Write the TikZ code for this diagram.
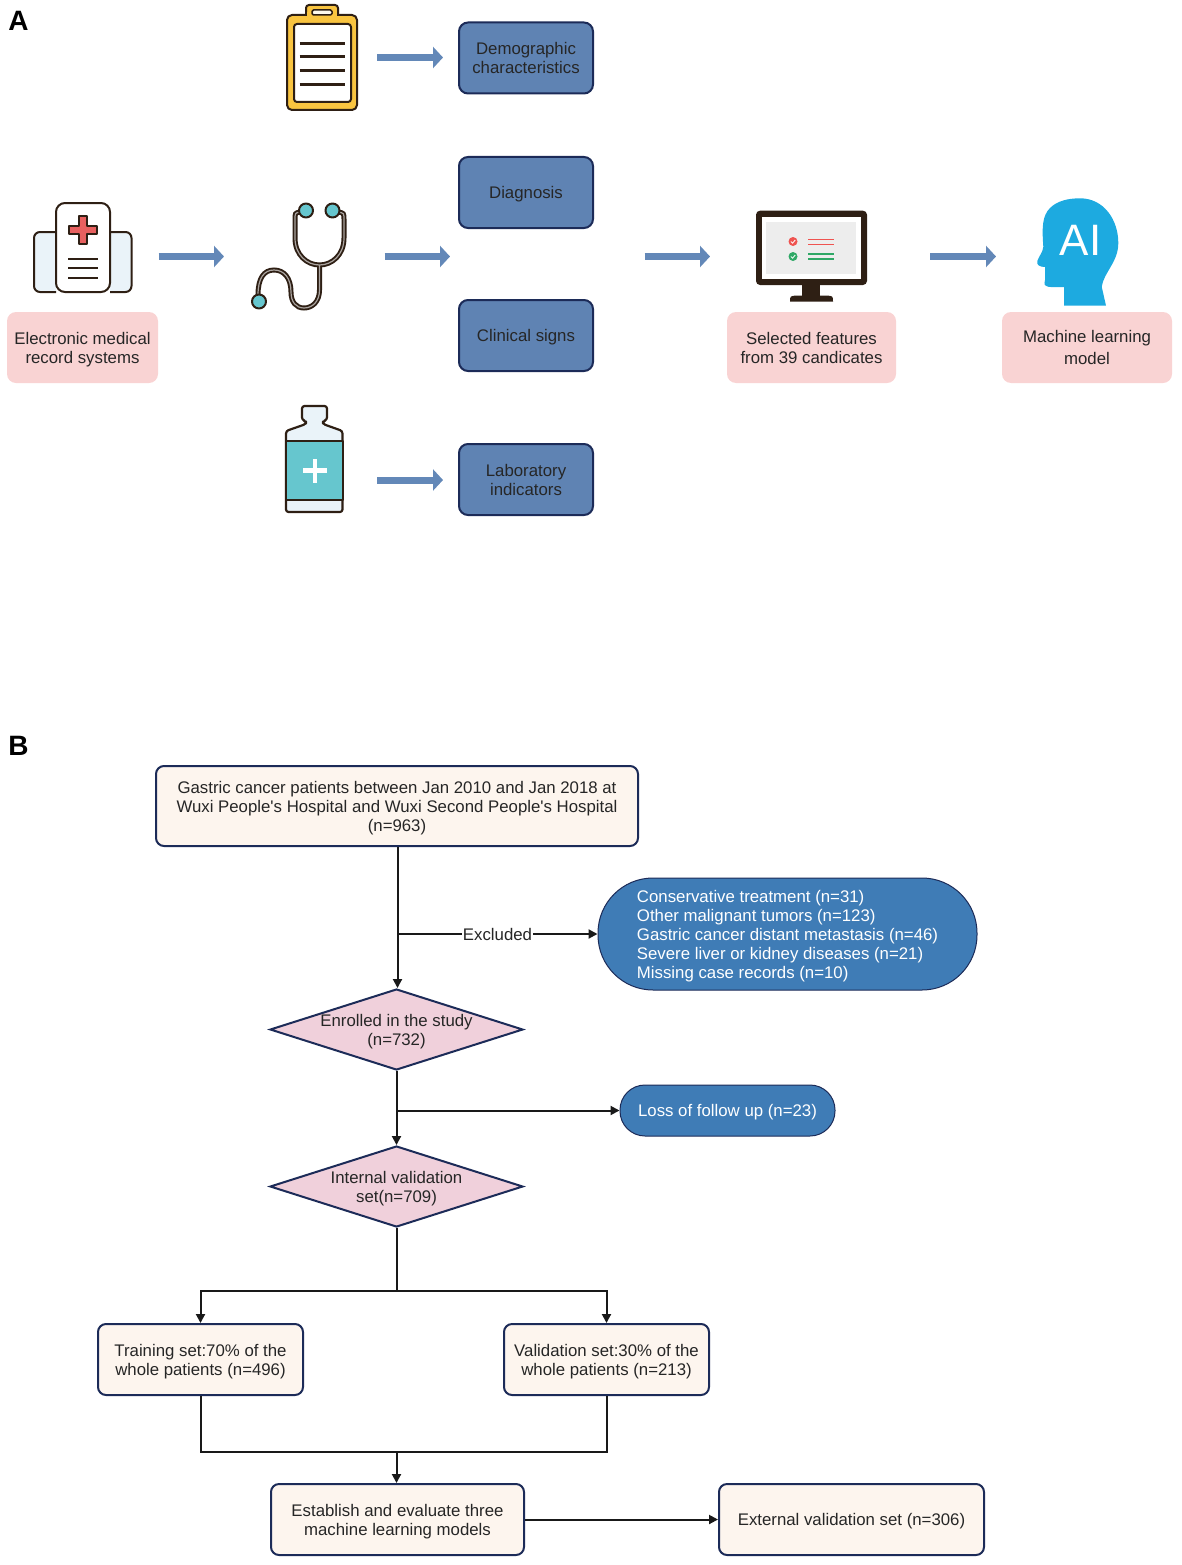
\documentclass[tikz,border=0pt]{standalone}
\usepackage{fontspec}
\setmainfont{Liberation Sans}
\usetikzlibrary{arrows.meta,shapes.geometric}
\definecolor{inkc}{HTML}{2E1F14}
\definecolor{navyc}{HTML}{1C2B58}
\definecolor{bluec}{HTML}{5F83B3}
\definecolor{arrowc}{HTML}{6388B8}
\definecolor{pinkc}{HTML}{F9D3D3}
\definecolor{creamc}{HTML}{FDF5EE}
\definecolor{rosec}{HTML}{F0D0DB}
\definecolor{pillc}{HTML}{3F7CB6}
\definecolor{tealc}{HTML}{66C6CE}
\definecolor{palec}{HTML}{EAF3F9}
\definecolor{yellowc}{HTML}{F9C440}
\definecolor{headc}{HTML}{1DAAE0}
\definecolor{redc}{HTML}{EF5350}
\definecolor{greenc}{HTML}{2FA866}
\definecolor{crossc}{HTML}{E8605F}
\tikzset{
txt/.style={font=\fontsize{16.8}{19}\selectfont, text=black!85, align=center, inner sep=0pt},
boxtxt/.style={txt, text depth=0pt},
bluebox/.style={boxtxt, rectangle, draw=navyc, line width=2pt, fill=bluec, rounded corners=9pt, minimum width=134pt, minimum height=71pt},
pinkbox/.style={boxtxt, rectangle, fill=pinkc, rounded corners=9pt, minimum height=71pt},
creambox/.style={boxtxt, rectangle, draw=navyc, line width=2pt, fill=creamc, rounded corners=8pt, minimum height=71pt},
flowdiamond/.style={boxtxt, diamond, aspect=3.12, draw=navyc, line width=2pt, fill=rosec, inner xsep=-10pt, inner ysep=-10pt, minimum width=253pt, minimum height=81pt},
pill/.style={boxtxt, rectangle, draw=navyc, line width=1pt, fill=pillc, text=white},
blockarrow/.style={draw=arrowc, line width=7pt, -{Triangle[length=10pt,width=21pt]}},
flowarrow/.style={draw=black!90, line width=2pt, -{Triangle[length=9pt,width=9pt]}},
flowline/.style={draw=black!90, line width=2pt},
panel/.style={font=\fontsize{28}{30}\selectfont\bfseries, inner sep=0pt},
icon/.style={draw=inkc, line width=2pt, line join=round},
rule/.style={draw=inkc, line width=2.5pt},
}
\begin{document}
\begin{tikzpicture}[x=1pt,y=-1pt]
\useasboundingbox (0,0) rectangle (1181,1565);
\node[panel] (panelA) at (18.5,21) {A};
\node[panel] (panelB) at (18.5,745.5) {B};

\draw[icon, fill=yellowc, rounded corners=3pt] (306,17) -- (306,5) -- (338,5) -- (338,17);
\draw[icon, fill=yellowc, rounded corners=5pt] (287,15) rectangle (357,110);
\fill[yellowc] (307,12) rectangle (337,18);
\draw[icon, fill=white!90!yellowc, line width=1.5pt, rounded corners=1.5pt] (312,10) rectangle (332,15);
\draw[icon, fill=white, rounded corners=3pt] (294,24) rectangle (351,102);
\foreach \ly in {43.5,57,71,84.5}{
\draw[rule, line width=3pt] (299.5,\ly) -- (345,\ly);
}

\draw[icon, fill=palec, rounded corners=6pt] (56,232) -- (34,232) -- (34,292) -- (56,292);
\draw[icon, fill=palec, rounded corners=6pt] (110,232) -- (131.5,232) -- (131.5,292) -- (110,292);
\draw[icon, fill=white, rounded corners=9pt] (56,292) -- (56,203) -- (110,203) -- (110,292) -- cycle;
\draw[icon, fill=crossc, line width=1.5pt] (79,216) -- (87,216) -- (87,226) -- (97,226) -- (97,234) -- (87,234) -- (87,244) -- (79,244) -- (79,234) -- (69,234) -- (69,226) -- (79,226) -- cycle;
\draw[rule] (68,259) -- (98,259);
\draw[rule, line width=2pt] (68,268) -- (98,268);
\draw[rule, line width=2pt] (68,277.5) -- (98,277.5);

\draw[inkc, line width=5pt] (300,212) .. controls (295,213) .. (295,220) -- (295,238) .. controls (295,255) and (307,265) .. (319.5,265) .. controls (332,265) and (344,255) .. (344,238) -- (344,220) .. controls (344,213) .. (338,212);
\draw[inkc, line width=5pt] (319.5,265) -- (319.5,290) .. controls (319.5,302) and (312,308) .. (304,308) .. controls (296,308) and (291,302) .. (291,292) .. controls (291,278) and (284,270) .. (274,270) .. controls (264,270) and (258,278) .. (258,295);
\draw[white!60!inkc, line width=1.2pt] (300,212) .. controls (295,213) .. (295,220) -- (295,238) .. controls (295,255) and (307,265) .. (319.5,265) .. controls (332,265) and (344,255) .. (344,238) -- (344,220) .. controls (344,213) .. (338,212);
\draw[white!60!inkc, line width=1.2pt] (319.5,265) -- (319.5,290) .. controls (319.5,302) and (312,308) .. (304,308) .. controls (296,308) and (291,302) .. (291,292) .. controls (291,278) and (284,270) .. (274,270) .. controls (264,270) and (258,278) .. (258,295);
\draw[icon, fill=tealc] (306,210.5) circle (7);
\draw[icon, fill=tealc] (332.5,210.5) circle (7);
\draw[icon, fill=tealc] (259,301.5) circle (7);

\draw[icon, fill=palec, line width=2.2pt, rounded corners=2.5pt] (302,406) -- (327,406) -- (327,420) -- (323,421) -- (323,424) -- (342.5,431) -- (342.5,512) -- (286,512) -- (286,431) -- (306,424) -- (306,421) -- (302,420) -- cycle;
\draw[icon, fill=tealc] (286,441) rectangle (342.5,500);
\fill[white] (303,468) rectangle (327,472.6);
\fill[white] (312.7,458.5) rectangle (317.3,482.5);

\fill[inkc] (790,301.6) .. controls (790,296) .. (797,295.5) -- (826,295.5) .. controls (833,296) .. (833,301.6) -- cycle;
\fill[inkc] (801.7,284) rectangle (820,296);
\fill[inkc, rounded corners=4pt] (756,210.7) rectangle (867,285);
\fill[white] (762,216.5) rectangle (861,279);
\fill[black!7] (765.7,221.7) rectangle (856,274);
\fill[redc] (793,241.5) circle (4.5);
\fill[greenc] (793,256.5) circle (4.5);
\draw[white, line width=0.8pt] (790.8,241.5) -- (792.6,243.2) -- (795.2,240);
\draw[white, line width=0.8pt] (790.8,256.5) -- (792.6,258.2) -- (795.2,255);
\foreach \ly in {239.5,244.5}{
\draw[redc, line width=1.5pt] (808,\ly) -- (833.5,\ly);
}
\foreach \ly in {254,259}{
\draw[greenc, line width=1.5pt] (808,\ly) -- (833.5,\ly);
}

\fill[headc] (1064,305.7) -- (1064,287) .. controls (1058,287) and (1052,287.5) .. (1048,286.7) .. controls (1044,285) .. (1045,280) -- (1045,267) .. controls (1040,267) and (1036,265) .. (1037.3,261) .. controls (1039,256) and (1043,252) .. (1043.3,246.7) .. controls (1042,228) and (1042,216) .. (1050,208) .. controls (1057,201) and (1068,198.3) .. (1080,198.3) .. controls (1104,198.3) and (1118.3,220) .. (1118.3,243) .. controls (1118.3,262) and (1104,272) .. (1101.7,286.7) -- (1106,305.7) -- cycle;
\node[font=\fontsize{44}{44}\selectfont, text=white, inner sep=0pt] (aitext) at (1080.5,240) {AI};

\node[bluebox] (demo) at (526,58) {Demographic\\characteristics};
\node[bluebox] (diag) at (526,192.5) {Diagnosis};
\node[bluebox] (clin) at (526,335.5) {Clinical signs};
\node[bluebox] (lab) at (526,479.5) {Laboratory\\indicators};
\node[pinkbox, minimum width=151pt] (emr) at (82.5,347.5) {Electronic medical\\record systems};
\node[pinkbox, minimum width=169pt] (feat) at (811.5,347.5) {Selected features\\from 39 candicates};
\node[pinkbox, minimum width=170pt, text depth=-6pt] (model) at (1087,347.5) {Machine learning\\[3pt]model};

\foreach \nm/\xa/\xb/\yy in {ba/377/443/57.5,bb/158.5/224/256.5,bc/384.5/450/256.5,bd/377/443/480,be/644.5/710/256.5,bf/930/996/256.5}{
\coordinate (\nm s) at (\xa,\yy);
\coordinate (\nm e) at (\xb,\yy);
\draw[blockarrow] (\nm s) -- (\nm e);
}

\node[creambox, minimum width=482pt, minimum height=80pt] (patients) at (397,806) {Gastric cancer patients between Jan 2010 and Jan 2018 at\\Wuxi People\textquotesingle s Hospital and Wuxi Second People\textquotesingle s Hospital\\(n=963)};
\node[pill, minimum width=379pt, minimum height=112pt, rounded corners=55pt, align=left] (excl) at (787.5,934) {Conservative treatment (n=31)\\Other malignant tumors (n=123)\\Gastric cancer distant metastasis (n=46)\\Severe liver or kidney diseases (n=21)\\Missing case records (n=10)};
\node[flowdiamond] (enrol) at (396.5,1029.5) {Enrolled in the study\\(n=732)};
\node[pill, minimum width=215pt, minimum height=51pt, rounded corners=25pt] (loss) at (727.5,1110.5) {Loss of follow up (n=23)};
\node[flowdiamond] (valid) at (396.5,1186.5) {Internal validation\\set(n=709)};
\node[creambox, minimum width=205pt] (train) at (200.5,1359.5) {Training set:70\% of the\\whole patients (n=496)};
\node[creambox, minimum width=205pt] (vset) at (606.5,1359.5) {Validation set:30\% of the\\whole patients (n=213)};
\node[creambox, minimum width=253pt] (estab) at (397.5,1519.5) {Establish and evaluate three\\machine learning models};
\node[creambox, minimum width=265pt] (extern) at (851.5,1519.5) {External validation set (n=306)};

\coordinate (jexcl) at (397.5,934);
\coordinate (jloss) at (396.5,1110.5);
\coordinate (jsplit) at (396.5,1291);
\coordinate (jmerge) at (396.5,1452);
\draw[flowarrow] (patients.south -| jexcl) -- (jexcl |- enrol.north);
\draw[flowarrow] (jexcl) -- node[txt, fill=white, inner xsep=0.5pt] (exclabel) {Excluded} (excl.west);
\draw[flowarrow] (enrol) -- (valid);
\draw[flowarrow] (jloss) -- (loss.west);
\draw[flowline] (valid.south) -- (jsplit);
\draw[flowarrow] (jsplit) -| (train.north);
\draw[flowarrow] (jsplit) -| (vset.north);
\draw[flowline] (train.south) |- (jmerge) -| (vset.south);
\draw[flowarrow] (jmerge) -- (jmerge |- estab.north);
\draw[flowarrow] (estab) -- (extern);
\end{tikzpicture}
\end{document}
